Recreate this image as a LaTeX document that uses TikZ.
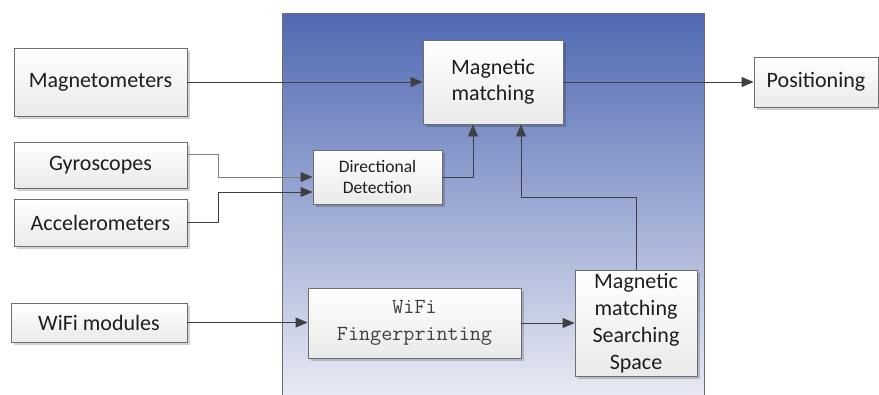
\documentclass[tikz,border=0pt]{standalone}
\usepackage{fontspec}
\setmainfont{Carlito}
\usetikzlibrary{arrows.meta,shadows}
\definecolor{panelTop}{RGB}{79,104,179}
\definecolor{panelBot}{RGB}{234,236,244}
\definecolor{boxLine}{RGB}{110,110,110}
\definecolor{boxBot}{RGB}{234,234,234}
\definecolor{wire}{RGB}{64,64,64}
\definecolor{ink}{RGB}{30,30,30}
\tikzset{
  block/.style={draw=boxLine, line width=0.9pt, top color=white, bottom color=boxBot,
    text=ink, align=center, inner sep=0pt,
    font=\fontsize{22}{26.5}\selectfont,
    drop shadow={shadow xshift=2.5pt, shadow yshift=-2.5pt, fill=black, opacity=0.18}},
  smallblock/.style={block, font=\fontsize{17.5}{21}\selectfont},
  monoblock/.style={block, text=ink!85, font=\ttfamily\fontsize{21.5}{27}\selectfont},
  conn/.style={draw=wire, line width=0.9pt, -{Triangle[length=12pt,width=10pt,color=wire]}},
}
\begin{document}
\begin{tikzpicture}[x=1pt,y=-1pt]
  \useasboundingbox (0,0) rectangle (879,394);
  \clip (0,0) rectangle (879,394);

  % processing panel
  \shade[top color=panelTop, bottom color=panelBot] (282,13) rectangle (704,400);
  \draw[boxLine, line width=0.9pt] (282,400) -- (282,13) -- (704,13) -- (704,400);

  % sensor inputs
  \node[block, minimum width=173pt, minimum height=68pt] (mag)  at (100.5,82)  {Magnetometers};
  \node[block, minimum width=173pt, minimum height=46pt] (gyro) at (100.5,165) {Gyroscopes};
  \node[block, minimum width=173pt, minimum height=47pt] (acc)  at (100.5,222.5) {Accelerometers};
  \node[block, minimum width=176pt, minimum height=39pt] (wifi) at (99,322.5)  {WiFi modules};

  % processing blocks
  \node[block, minimum width=140pt, minimum height=84pt] (mm)   at (493,82)    {Magnetic\\matching};
  \node[smallblock, minimum width=129pt, minimum height=54pt] (dd) at (377.5,177) {Directional\\Detection};
  \node[monoblock, minimum width=213pt, minimum height=70pt] (wfp) at (414.5,323) {WiFi\\Fingerprinting};
  \node[block, minimum width=122pt, minimum height=106pt, font=\fontsize{22}{27}\selectfont] (mmss) at (636,323) {Magnetic\\matching\\Searching\\Space};

  % output
  \node[block, minimum width=124pt, minimum height=50pt] (pos) at (816,82) {Positioning};

  % connectors
  \draw[conn] (mag.east) -- (mm.west);
  \draw[conn] (mm.east) -- (pos.west);
  \draw[conn, draw=gray] (gyro.east |- 0,154) -- (218,154) |- (dd.west);
  \draw[conn] (acc.east) -- (218,222.5) |- (dd.west |- 0,192);
  \draw[conn] (dd.east) -| ([xshift=-20pt]mm.south);
  \draw[conn] (mmss.north) -- (mmss.north |- 0,197) -| ([xshift=28pt]mm.south);
  \draw[conn] (wifi.east) -- (wfp.west |- wifi.east);
  \draw[conn] (wfp.east) -- (mmss.west |- wfp.east);
\end{tikzpicture}
\end{document}
